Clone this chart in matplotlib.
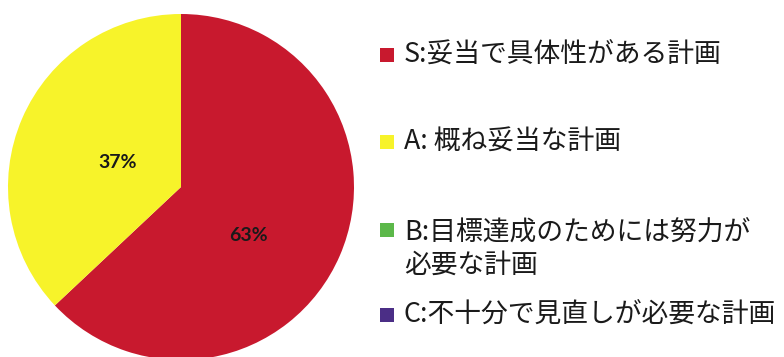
import matplotlib.pyplot as plt
from matplotlib.patches import Rectangle

plt.rcParams['font.family'] = ['Noto Sans CJK JP', 'DejaVu Sans']

labels = ["S:妥当で具体性がある計画", "A: 概ね妥当な計画",
          "B:目標達成のためには努力が\n必要な計画", "C:不十分で見直しが必要な計画"]
values = [63, 37, 0, 0]
colors = ["#C8192E", "#F7F32A", "#5CB84A", "#4B2E86"]

W, H = 784, 357
fig = plt.figure(figsize=(W / 100, H / 100), dpi=100)

# pie axes in pixel terms: centre (181, 187), radius 173
cx, cy, r = 181, 187, 173
ax = fig.add_axes([(cx - r) / W, (H - cy - r) / H, 2 * r / W, 2 * r / H])

shown = [(v, c) for v, c in zip(values, colors) if v > 0]
wedges, texts, autotexts = ax.pie(
    [v for v, _ in shown], colors=[c for _, c in shown],
    startangle=90, counterclock=False, radius=1,
    autopct="%d%%", pctdistance=0.45,
    textprops=dict(fontsize=14, fontweight="bold", color="#1a1a1a",
                   family=["Lato", "DejaVu Sans"]))
# Excel-style label placement
autotexts[0].set_position((0.39, -0.28))
autotexts[1].set_position((-0.365, 0.14))
ax.set_xlim(-1, 1)
ax.set_ylim(-1, 1)
ax.set_aspect("equal")
ax.axis("off")

# legend drawn by hand
rows_y = [55, 142, 249, 315]
for lab, col, y in zip(labels, colors, rows_y):
    sq = 14
    top = 230 if "\n" in lab else y
    fig.add_artist(Rectangle(((380) / W, (H - top - sq / 2) / H), sq / W, sq / H,
                             transform=fig.transFigure, color=col, lw=0))
    fig.text(404 / W, (H - y) / H, lab, fontsize=19.3, color="#1a1a1a",
             va="center", ha="left", linespacing=1.25)

fig.savefig("out.png", dpi=100)
